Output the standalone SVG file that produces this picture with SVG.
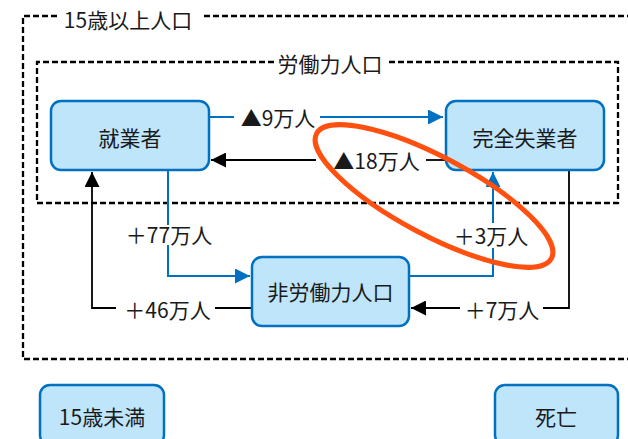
<svg xmlns="http://www.w3.org/2000/svg" width="628" height="439" viewBox="0 0 628 439">
<style>
text{font-family:"Noto Sans CJK JP","Noto Sans",sans-serif;font-size:21px;fill:#1a1a1a;text-anchor:middle;dominant-baseline:central}
.dash{fill:none;stroke:#000;stroke-width:2.3;stroke-dasharray:6 3}
.box{fill:#BFE5FB;stroke:#0070C0;stroke-width:2.5}
.bl{fill:none;stroke:#0070C0;stroke-width:2}
.bk{fill:none;stroke:#000;stroke-width:1.8}
</style>
<defs>
<marker id="ab" markerUnits="userSpaceOnUse" markerWidth="15" markerHeight="15" refX="15" refY="7.5" orient="auto"><path d="M0,0 L15,7.5 L0,15 z" fill="#0070C0"/></marker>
<marker id="ak" markerUnits="userSpaceOnUse" markerWidth="15" markerHeight="15" refX="15" refY="7.5" orient="auto"><path d="M0,0 L15,7.5 L0,15 z" fill="#000"/></marker>
</defs>
<g id="outer">
<path class="dash" d="M57,16 H23 V359 H640 M204,16 H640"/>
<text x="128" y="19">15歳以上人口</text>
</g>
<g id="labor">
<path class="dash" d="M274,62 H37 V203 H618 V62 H387"/>
<text x="330" y="63">労働力人口</text>
</g>
<g id="connectors">
<path class="bl" d="M209,117 H234"/>
<path class="bl" d="M320,117 H443" marker-end="url(#ab)"/>
<path class="bk" d="M446,160 H426"/>
<path class="bk" d="M316,160 H211" marker-end="url(#ak)"/>
<path class="bl" d="M168,170 V225"/>
<path class="bl" d="M168,245 V276 H250" marker-end="url(#ab)"/>
<path class="bl" d="M409,276 H493 V248"/>
<path class="bl" d="M493,223 V172" marker-end="url(#ab)"/>
<path class="bk" d="M252,308 H215"/>
<path class="bk" d="M116,308 H92 V172" marker-end="url(#ak)"/>
<path class="bk" d="M569,170 V308 H543"/>
<path class="bk" d="M460,308 H411" marker-end="url(#ak)"/>
<text x="278" y="117">▲9万人</text>
<text x="376.5" y="160">▲18万人</text>
<text x="169" y="234">＋77万人</text>
<text x="491" y="235">＋3万人</text>
<text x="167.5" y="309">＋46万人</text>
<text x="502" y="309">＋7万人</text>
</g>
<g id="employed"><rect class="box" x="51" y="101" width="158" height="69" rx="10"/><text x="130" y="137">就業者</text></g>
<g id="unemployed"><rect class="box" x="446" y="101" width="158" height="69" rx="10"/><text x="525" y="137">完全失業者</text></g>
<g id="notinlabor"><rect class="box" x="252" y="257" width="157" height="69" rx="10"/><text x="330.5" y="291">非労働力人口</text></g>
<g id="under15"><rect class="box" x="40" y="385" width="124" height="60" rx="10"/><text x="102" y="416">15歳未満</text></g>
<g id="death"><rect class="box" x="495" y="385" width="123" height="60" rx="10"/><text x="556" y="416">死亡</text></g>
<g id="highlight"><ellipse cx="434" cy="196" rx="133" ry="39" transform="rotate(28 434 196)" fill="none" stroke="#FF5010" stroke-width="5"/></g>
</svg>
